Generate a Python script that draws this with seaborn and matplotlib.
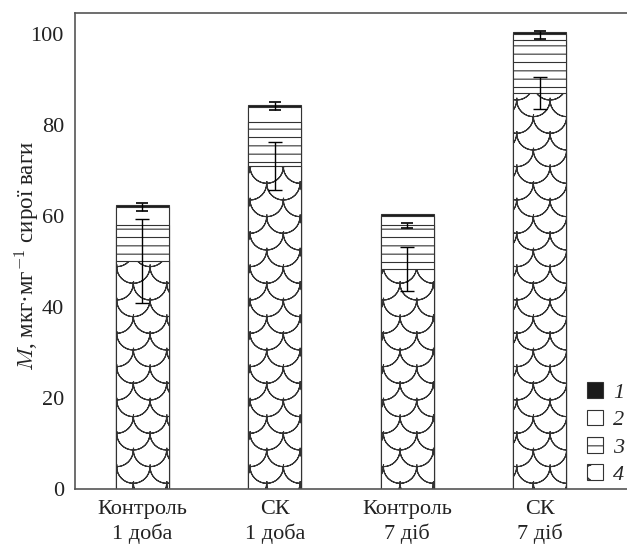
import numpy as np
import pandas as pd
import matplotlib
matplotlib.use("Agg")
import matplotlib.pyplot as plt
import matplotlib.hatch as mhatch
from matplotlib.path import Path
from matplotlib.patches import Patch
import seaborn as sns


# values
groups = ["Контроль\n1 доба", "СК\n1 доба", "Контроль\n7 діб", "СК\n7 діб"]

part_4 = [50.1, 71.0, 48.4, 87.0]
part_3 = [7.9, 9.6, 9.6, 11.6]
part_2 = [4.0, 3.3, 2.0, 1.3]
part_1 = [0.5, 0.5, 0.5, 0.6]

err_4 = [9.2, 5.35, 4.85, 3.5]

upper_mid = [62.0, 84.15, 57.9, 99.75]
upper_err = [0.9, 0.85, 0.6, 0.85]

legend_labels = ["1", "2", "3", "4"]

EDGE = "#333333"
SPINE = "#555555"
DARK = "#1a1a1a"
TEXT = "#222222"


class ScaleHatch(mhatch.HatchPatternBase):
    """Fish-scale pattern, used in place of the small circles 'o'."""

    def __init__(self, hatch, density):

        n = int(round(hatch.count("o") * 1.5))

        self.arcs = []

        if n:

            p = 1.0 / n
            r = p / 2.0

            for k in range(2 * n + 2):

                cy = k * r
                shift = (k % 2) * r

                for i in range(-1, n + 2):

                    self.arcs.append((i * p + shift, cy, r))

        self.seg = 16

        # each arc goes out and back along itself so agg fills nothing
        self.per_arc = 2 * self.seg + 1

        self.num_vertices = len(self.arcs) * self.per_arc

    def set_vertices_and_codes(self, vertices, codes):

        t = np.linspace(np.pi, 2 * np.pi, self.seg + 1)
        t = np.concatenate([t, t[-2::-1]])

        cursor = 0

        for cx, cy, r in self.arcs:

            vertices[cursor:cursor + self.per_arc, 0] = cx + r * np.cos(t)
            vertices[cursor:cursor + self.per_arc, 1] = cy + r * np.sin(t)

            codes[cursor] = Path.MOVETO
            codes[cursor + 1:cursor + self.per_arc] = Path.LINETO

            cursor += self.per_arc


mhatch._hatch_types = [
    ScaleHatch if h is mhatch.SmallCircles else h
    for h in mhatch._hatch_types
]


sns.set_theme(style="white")

plt.rcParams["font.family"] = ["Liberation Serif", "DejaVu Serif"]
plt.rcParams["mathtext.fontset"] = "cm"
plt.rcParams["hatch.linewidth"] = 0.8
plt.rcParams["hatch.color"] = EDGE


df = pd.DataFrame({
    "group": groups,
    "part_4": part_4,
    "part_3": part_3,
    "part_2": part_2,
    "part_1": part_1,
})

df["top_4"] = df["part_4"]
df["top_3"] = df["top_4"] + df["part_3"]
df["top_2"] = df["top_3"] + df["part_2"]
df["top_1"] = df["top_2"] + df["part_1"]


fig = plt.figure(figsize=(6.27, 5.45), dpi=100)

ax = fig.add_axes([0.1196, 0.1028, 0.885, 0.8734])

# stacked look: tallest layer first, each lower layer painted over it
layers = [
    ("top_1", DARK, ""),
    ("top_2", "white", ""),
    ("top_3", "white", "--"),
    ("top_4", "white", "oo"),
]

for column, face, hatch in layers:

    sns.barplot(
        data=df,
        x="group",
        y=column,
        order=groups,
        color=face,
        saturation=1,
        width=0.4,
        errorbar=None,
        edgecolor=EDGE,
        linewidth=0.8,
        hatch=hatch,
        ax=ax
    )

x = np.arange(len(groups))

ax.errorbar(
    x,
    df["top_4"],
    yerr=err_4,
    fmt="none",
    ecolor="black",
    elinewidth=1,
    capsize=5,
    capthick=1,
    zorder=5
)

ax.errorbar(
    x,
    upper_mid,
    yerr=upper_err,
    fmt="none",
    ecolor="black",
    elinewidth=1,
    capsize=4.5,
    capthick=1.2,
    zorder=5
)

ax.set_xlim(-0.508, 3.68)
ax.set_ylim(0, 104.6)

ax.set_xticks(x, groups)
ax.set_xticks([0.5, 1.5, 2.5], minor=True)
ax.set_yticks(range(0, 101, 20))

ax.tick_params(axis="x", which="major", length=0, pad=8, labelsize=16, labelcolor=TEXT)
ax.tick_params(axis="x", which="minor", direction="in", length=5, width=1, color=SPINE)
ax.tick_params(axis="y", direction="in", length=5, width=1, color=SPINE, pad=8, labelsize=16, labelcolor=TEXT)

for label in ax.get_xticklabels():
    label.set_linespacing(1.3)

ax.set_xlabel("")
ax.set_ylabel(
    r"$M$, мкг·мг$^{-1}$ сирої ваги",
    fontsize=16.5,
    color=TEXT
)
ax.yaxis.set_label_coords(-0.059, 0.49)

for side in ["left", "top", "bottom"]:
    ax.spines[side].set_color(SPINE)
    ax.spines[side].set_linewidth(1.2)

ax.spines["right"].set_visible(False)

handles = [
    Patch(facecolor=DARK, edgecolor=EDGE, linewidth=0.8),
    Patch(facecolor="white", edgecolor=EDGE, linewidth=0.8),
    Patch(facecolor="white", edgecolor=EDGE, linewidth=0.8, hatch="--"),
    Patch(facecolor="white", edgecolor=EDGE, linewidth=0.8, hatch="oo"),
]

fig.legend(
    handles,
    legend_labels,
    loc="lower right",
    bbox_to_anchor=(0.995, 0.11),
    bbox_transform=fig.transFigure,
    frameon=False,
    prop={"size": 16, "style": "italic"},
    handlelength=0.72,
    handleheight=0.72,
    handletextpad=0.45,
    labelspacing=0.3,
    borderpad=0,
    borderaxespad=0
)

fig.savefig("out.png", dpi=100)
